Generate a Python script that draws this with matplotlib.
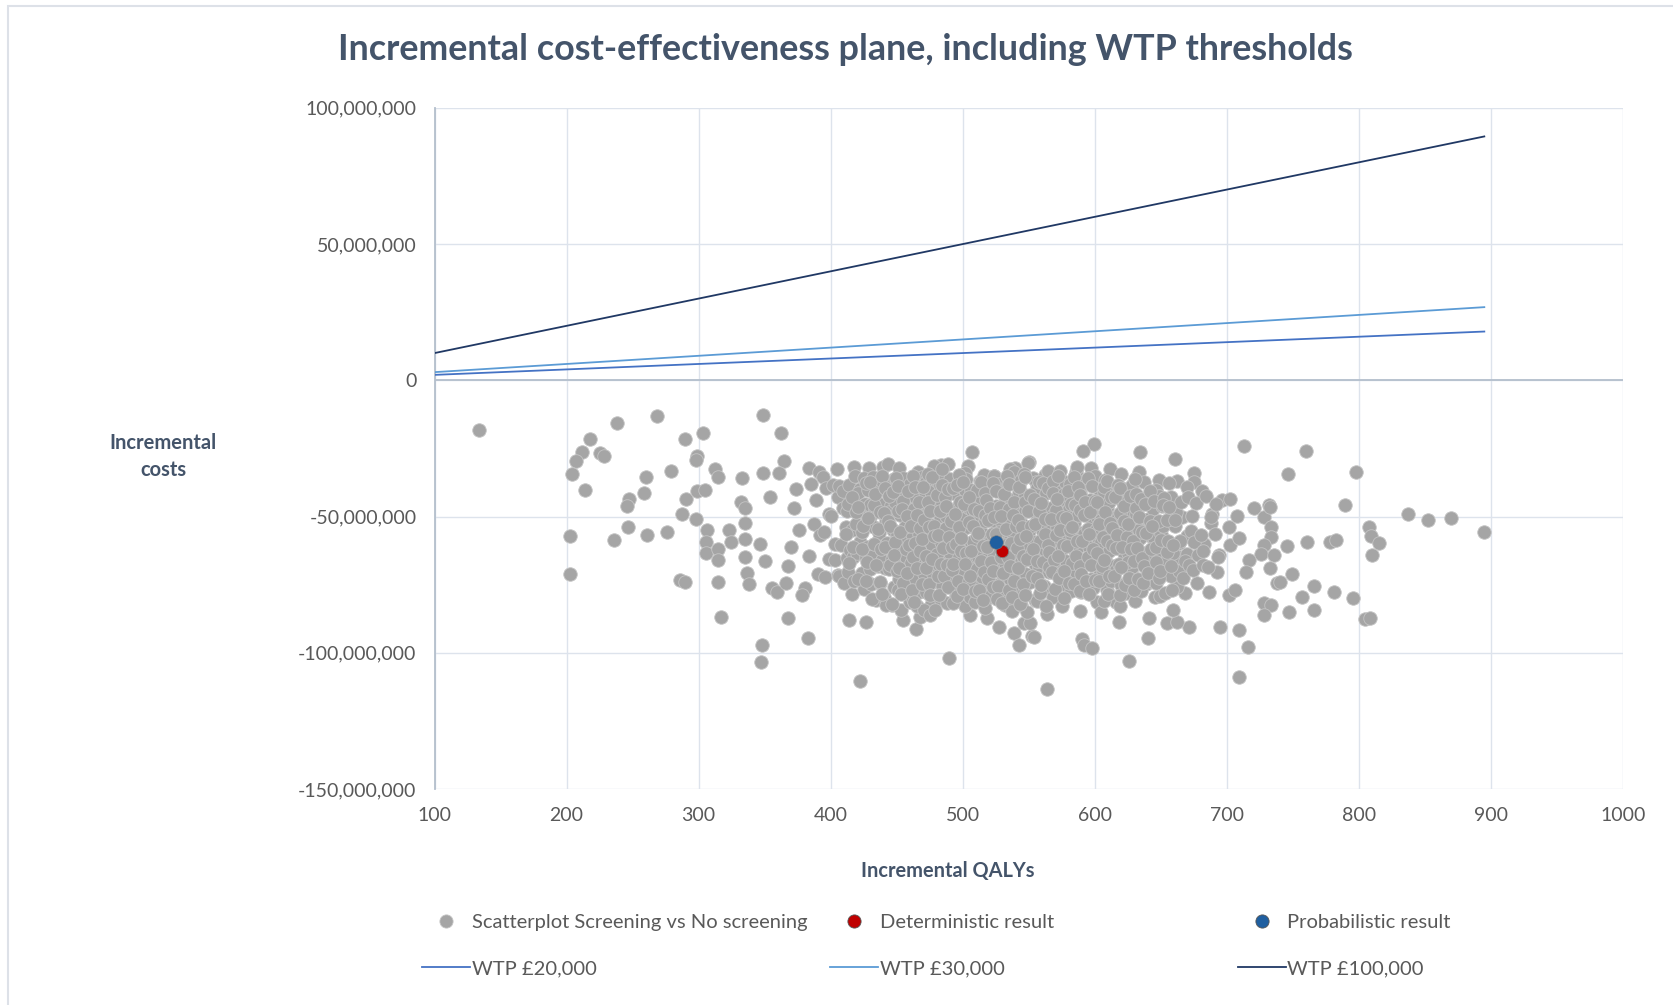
#!/usr/bin/env python3
## Incremental cost-effectiveness plane with WTP thresholds
import numpy as np
import matplotlib
matplotlib.use("Agg")
import matplotlib.pyplot as plt
from matplotlib.lines import Line2D
from matplotlib.patches import Rectangle
from matplotlib.ticker import FuncFormatter, MultipleLocator

plt.rcParams["font.family"] = "Lato"

# ---- data (costs in millions) -------------------------------------------
# outlying PSA iterations, read point by point
sparse_qaly = [133.5, 217.6, 211.7, 207, 204.3, 213.8, 225.6, 228.4, 238, 268.8,
               289.3, 303.6, 298.7, 297.7, 279.4, 260, 258.5, 247.6, 245.6, 312.5,
               314.3, 332.7, 290.3, 298.7, 304.5, 287.5, 298.1, 332, 335, 202.4,
               202.4, 246.8, 235.9, 261, 276.1, 306.1, 305.2, 305.2, 314.5, 315,
               322.9, 324.6, 335, 335, 335, 336.5, 337.8, 285.6, 289.5, 315,
               316.8, 348.6, 362.7, 364.5, 348.6, 361.2, 383.2, 391.5, 353.9, 346.8,
               350.6, 355.6, 359.4, 366.5, 380.9, 378.4, 367.8, 382.9, 347.8, 347.1,
               413.7, 426.9, 422.4, 464.8, 489.5, 507.2, 483.2, 503.9, 527.1, 538.5,
               542.3, 546.1, 552.4, 523.4, 539.8, 549.9, 454.7, 467.8, 446.3, 475.9,
               518.3, 505.7, 599.6, 590.8, 634.5, 660.5, 632.0, 648.4, 662.3, 674.9,
               675.4, 713.0, 696.4, 702.7, 689.1, 687.9, 701.7, 702.5, 709.3, 708.0,
               720.7, 732.0, 728.3, 733.3, 733.3, 728.3, 725.8, 716.9, 714.4, 738.3,
               728.3, 733.3, 728.3, 695.1, 709.0, 715.9, 709.0, 671.2, 640.1, 625.8,
               563.7, 590.7, 592.0, 597.8, 618.0, 654.6, 662.2, 659.6, 640.7, 668.6,
               686.3, 701.4, 706.5, 662.2, 677.3, 692.4, 663.5, 669.8, 682.4, 693.8,
               666.0, 661.0, 635.8, 643.4, 643.4, 645.9, 553.6, 551.1, 760.2, 746.1,
               798.1, 789.3, 836.9, 852.1, 869.7, 894.5, 807.9, 809.4, 815.0, 809.7,
               745.6, 760.7, 778.4, 782.7, 749.4, 740.5, 765.8, 757.0, 781.0, 795.6,
               746.9, 765.8, 805.0, 808.8, 733.0, 735.6, 733.0,
               372, 376, 370, 368, 374]
sparse_cost = [-18.2, -21.7, -26.3, -29.6, -34.5, -40.2, -26.6, -27.8, -15.6, -13.0,
               -21.7, -19.5, -27.8, -29.3, -33.3, -35.4, -41.5, -43.7, -46.1, -32.7,
               -35.4, -35.8, -43.5, -40.8, -40.4, -49.0, -50.8, -44.7, -47.0, -57.3,
               -71.1, -53.9, -58.6, -56.8, -55.6, -55.1, -59.2, -63.2, -62.0, -66.0,
               -55.1, -59.4, -52.5, -58.1, -65.0, -70.9, -74.6, -73.4, -74.2, -74.2,
               -87.0, -12.6, -19.5, -29.6, -34.2, -34.2, -32.3, -33.7, -43.0, -60.2,
               -66.2, -76.4, -77.6, -74.5, -76.4, -78.8, -87.4, -94.7, -97.3, -103.3,
               -87.8, -88.6, -110.3, -91.3, -102.0, -26.4, -30.9, -31.5, -90.4, -92.9,
               -97.2, -89.2, -93.9, -35.1, -32.3, -30.1, -88.0, -86.8, -82.5, -82.5,
               -87.4, -86.2, -23.4, -26.0, -26.3, -28.9, -35.4, -36.6, -36.9, -33.9,
               -37.5, -24.1, -43.9, -43.7, -49.0, -52.5, -53.9, -60.4, -57.9, -49.8,
               -47.0, -45.8, -50.1, -53.8, -57.6, -60.6, -63.6, -66.0, -70.3, -74.5,
               -81.8, -82.5, -86.2, -90.7, -91.7, -98.0, -108.8, -90.6, -94.5, -103.1,
               -113.3, -95.0, -97.2, -98.4, -88.6, -89.2, -88.6, -84.4, -87.4, -78.2,
               -77.6, -78.8, -77.0, -75.8, -74.5, -70.3, -64.8, -63.6, -59.9, -64.2,
               -50.1, -49.8, -54.5, -57.6, -64.8, -66.0, -94.1, -89.2, -26.0, -34.5,
               -33.8, -45.8, -49.2, -51.3, -50.4, -55.6, -54.0, -57.2, -59.6, -64.2,
               -60.7, -59.5, -59.2, -58.6, -71.1, -74.2, -75.4, -79.4, -77.6, -79.8,
               -84.9, -84.3, -87.7, -87.2, -46.4, -64.2, -69.0,
               -47, -55, -61, -68, -40]

# dense centre of the cloud, estimated column by column
core_qaly = [385, 391, 397, 403, 409, 415, 421, 427, 433, 439, 445, 451, 457, 463,
             469, 475, 481, 487, 493, 499, 505, 511, 517, 523, 529, 535, 541, 547,
             553, 559, 565, 571, 577, 583, 589, 595, 601, 607, 613, 619, 625, 631,
             637, 643, 649, 655, 661, 667, 673, 679, 685, 691]
core_cost = [
    [-38, -52, -63],
    [-36, -45, -57, -70],
    [-41, -49, -55, -64, -72],
    [-34, -39, -44, -50, -59, -67, -73],
    [-37, -42, -47, -53, -59, -65, -70, -76],
    [-33, -40, -45, -49, -55, -61, -66, -72, -79],
    [-35, -38, -43, -48, -52, -58, -63, -69, -75],
    [-31, -37, -42, -46, -51, -56, -60, -66, -71, -77],
    [-34, -40, -44, -49, -54, -58, -63, -68, -73, -82],
    [-32, -36, -41, -47, -52, -57, -61, -65, -70, -76, -80],
    [-30, -35, -39, -44, -50, -55, -59, -64, -69, -74, -84],
    [-33, -38, -42, -46, -51, -57, -62, -67, -72, -78, -86],
    [-36, -40, -45, -49, -54, -60, -65, -70, -75, -81],
    [-34, -39, -43, -48, -53, -58, -63, -68, -73, -79, -84],
    [-37, -41, -46, -51, -56, -61, -66, -71, -77, -83],
    [-33, -38, -42, -47, -52, -57, -62, -67, -72, -78, -85],
    [-35, -40, -44, -49, -54, -59, -64, -69, -74, -80],
    [-32, -37, -41, -46, -50, -55, -60, -65, -70, -76, -82],
    [-36, -39, -43, -48, -53, -58, -63, -68, -73, -79],
    [-33, -38, -42, -47, -52, -56, -61, -66, -71, -77, -84],
    [-35, -40, -45, -49, -54, -59, -64, -69, -75, -81],
    [-37, -41, -46, -51, -56, -60, -65, -70, -76, -83],
    [-34, -39, -43, -48, -53, -58, -62, -67, -72, -78, -85],
    [-36, -40, -45, -50, -55, -60, -65, -69, -74, -80],
    [-38, -42, -47, -52, -57, -64, -67, -71, -77, -82],
    [-33, -39, -44, -49, -54, -59, -63, -68, -73, -79, -86],
    [-35, -41, -46, -51, -56, -61, -66, -70, -75, -81],
    [-32, -37, -43, -48, -53, -58, -62, -67, -72, -78, -84],
    [-34, -39, -44, -49, -54, -59, -64, -69, -74, -80],
    [-36, -41, -46, -51, -56, -60, -65, -70, -76, -82],
    [-33, -38, -43, -47, -52, -57, -62, -67, -72, -78, -85],
    [-35, -40, -45, -50, -55, -59, -64, -69, -74, -80],
    [-32, -37, -42, -47, -52, -56, -61, -66, -71, -77, -83],
    [-34, -39, -44, -49, -53, -58, -63, -68, -73, -79],
    [-31, -36, -41, -46, -51, -56, -60, -65, -70, -76, -86],
    [-33, -38, -43, -48, -53, -57, -62, -67, -72, -78],
    [-35, -40, -45, -50, -55, -60, -64, -69, -75, -81],
    [-37, -42, -47, -52, -56, -61, -66, -71, -77, -84],
    [-34, -39, -44, -49, -54, -59, -64, -68, -73, -80],
    [-36, -41, -46, -51, -55, -60, -65, -70, -76, -83],
    [-38, -43, -48, -53, -58, -63, -67, -72, -78],
    [-35, -40, -45, -50, -55, -60, -65, -70, -75, -82],
    [-37, -42, -47, -51, -57, -62, -67, -73, -79],
    [-39, -44, -49, -54, -59, -64, -69, -75, -81],
    [-41, -46, -52, -58, -63, -68, -73, -79],
    [-38, -44, -49, -55, -61, -67, -72, -77],
    [-42, -47, -53, -58, -65, -70, -76],
    [-40, -45, -56, -60, -68, -73],
    [-43, -49, -54, -59, -66, -71],
    [-41, -46, -57, -63, -69],
    [-44, -50, -62, -67],
    [-47, -57, -66],
]
# second layer of the thickest part, sitting between the first one
inner_qaly = [412, 418, 424, 430, 436, 442, 448, 454, 460, 466, 472, 478, 484, 490,
              496, 502, 508, 514, 520, 526, 532, 538, 544, 550, 556, 562, 568, 574,
              580, 586, 592, 598, 604, 610, 616, 622, 628, 634, 640, 646, 652, 658]
inner_cost = [
    [-47, -57, -68],
    [-41, -50, -61, -72],
    [-39, -48, -54, -63, -74],
    [-37, -44, -52, -60, -66, -79],
    [-34, -43, -50, -55, -63, -68, -73],
    [-38, -42, -47, -53, -61, -67, -77],
    [-36, -40, -49, -55, -60, -65, -70, -81],
    [-38, -43, -47, -52, -57, -62, -68, -73, -78],
    [-36, -41, -46, -51, -55, -61, -66, -71, -76],
    [-39, -44, -48, -54, -58, -64, -69, -74, -80],
    [-35, -40, -45, -50, -55, -60, -65, -70, -75],
    [-37, -42, -47, -52, -57, -62, -67, -72, -78, -83],
    [-34, -39, -44, -48, -53, -58, -63, -68, -73, -79],
    [-38, -41, -46, -51, -56, -61, -66, -71, -76, -81],
    [-36, -40, -45, -50, -54, -59, -64, -69, -74, -80],
    [-37, -43, -47, -52, -57, -62, -67, -72, -78],
    [-39, -44, -49, -54, -58, -63, -68, -73, -79],
    [-36, -41, -46, -51, -56, -60, -65, -70, -75, -82],
    [-38, -43, -48, -53, -57, -62, -67, -72, -77],
    [-40, -45, -50, -54, -58, -65, -69, -74, -80],
    [-36, -42, -46, -51, -56, -61, -66, -71, -76, -83],
    [-38, -44, -48, -53, -58, -63, -68, -73, -78],
    [-35, -40, -45, -50, -55, -60, -65, -70, -75, -81],
    [-37, -42, -47, -52, -57, -62, -67, -72, -78],
    [-39, -44, -49, -53, -58, -63, -68, -73, -79],
    [-36, -41, -45, -50, -55, -60, -65, -70, -75, -82],
    [-38, -43, -48, -52, -57, -62, -67, -72, -77],
    [-35, -40, -45, -50, -54, -59, -64, -69, -74, -80],
    [-37, -42, -47, -51, -56, -61, -66, -71, -76],
    [-34, -39, -44, -49, -54, -58, -63, -68, -73, -79],
    [-36, -41, -46, -51, -55, -60, -65, -70, -75],
    [-38, -43, -48, -53, -58, -62, -67, -72, -78],
    [-40, -45, -50, -54, -59, -64, -69, -74, -80],
    [-37, -42, -47, -52, -57, -62, -66, -71, -77],
    [-39, -44, -49, -53, -58, -63, -68, -73, -79],
    [-41, -46, -51, -56, -61, -65, -70, -75],
    [-38, -43, -48, -53, -58, -63, -68, -73, -78],
    [-40, -45, -50, -55, -60, -65, -71, -76],
    [-42, -47, -52, -57, -62, -67, -72],
    [-44, -50, -55, -61, -66, -71],
    [-42, -47, -53, -59, -64, -70],
    [-45, -51, -57, -62, -68],
]
# hand-set offsets so the centre does not sit on a visible grid
nudge_qaly = [0, 2.5, -1.5, 3, -2.5, 1, -0.5, 2, -2, 1.5, -1, 2.8, -3, 0.5]
nudge_cost = [0, 1.2, -0.8, 1.6, -1.4, 0.5, -0.3, 1.0, -1.8, 0.2, 1.5, -1.1]

det_qaly, det_cost = [529.5], [-62.6]
prob_qaly, prob_cost = [525.5], [-59.4]

wtp_qaly = [100, 895]
wtp20_cost = [2.0, 17.9]
wtp30_cost = [3.0, 26.85]
wtp100_cost = [10.0, 89.5]

# ---- build arrays ---------------------------------------------------------
scat_x = list(sparse_qaly)
scat_y = list(sparse_cost)
for k, (cx, cy) in enumerate([(core_qaly, core_cost), (inner_qaly, inner_cost)]):
    for i, (x, col) in enumerate(zip(cx, cy)):
        for j, y in enumerate(col):
            scat_x.append(x + nudge_qaly[(3 * i + j + 5 * k) % len(nudge_qaly)])
            scat_y.append(y + nudge_cost[(5 * i + 2 * j + 3 * k) % len(nudge_cost)])
scat_x = np.array(scat_x)
scat_y = np.array(scat_y) * 1e6

TXT = "#595959"
HEAD = "#44546A"
GRID = "#dde3ec"
AXLN = "#b4bfcc"
GRAY = "#a5a5a5"
C20, C30, C100 = "#4472C4", "#5B9BD5", "#203864"
RED, BLUE = "#C00000", "#1F5FA0"

fig = plt.figure(figsize=(16.74, 10.05), dpi=100)
ax = fig.add_axes([0.2596, 0.2149, 0.7099, 0.6778])

ax.plot(wtp_qaly, np.array(wtp20_cost) * 1e6, color=C20, lw=1.3, zorder=3)
ax.plot(wtp_qaly, np.array(wtp30_cost) * 1e6, color=C30, lw=1.3, zorder=3)
ax.plot(wtp_qaly, np.array(wtp100_cost) * 1e6, color=C100, lw=1.3, zorder=3)
ax.axhline(0, color=AXLN, lw=1.3, zorder=2)

ax.scatter(scat_x, scat_y, s=95, color=GRAY, edgecolors="#c4c4c4", linewidths=0.6, zorder=4)
ax.scatter(prob_qaly, np.array(prob_cost) * 1e6, s=95, color=BLUE, edgecolors="#7f7f7f",
           linewidths=0.4, zorder=6)
ax.scatter(det_qaly, np.array(det_cost) * 1e6, s=80, color=RED, edgecolors="#7f7f7f",
           linewidths=0.6, zorder=5)

ax.set_xlim(100, 1000)
ax.set_ylim(-150e6, 100e6)
ax.xaxis.set_major_locator(MultipleLocator(100))
ax.yaxis.set_major_locator(MultipleLocator(50e6))
ax.yaxis.set_major_formatter(FuncFormatter(lambda v, p: f"{v:,.0f}"))
ax.grid(True, color=GRID, lw=1.0, zorder=0)
ax.set_axisbelow(True)
for s in ["top", "right", "bottom"]:
    ax.spines[s].set_visible(False)
ax.spines["left"].set_color(AXLN)
ax.spines["left"].set_linewidth(1.3)
ax.tick_params(length=0, labelsize=14, labelcolor=TXT)
ax.tick_params(axis="y", pad=13)
ax.tick_params(axis="x", pad=13)

fig.text(0.5048, 0.951, "Incremental cost-effectiveness plane, including WTP thresholds",
         ha="center", va="center", fontsize=25.8, fontweight="bold", color=HEAD)
fig.text(0.0974, 0.546, "Incremental\ncosts", ha="center", va="center", fontsize=14.5,
         fontweight="bold", color=HEAD, linespacing=1.45)
fig.text(0.5663, 0.1333, "Incremental QALYs", ha="center", va="center", fontsize=14.4,
         fontweight="bold", color=HEAD)

# legend: three columns, two rows each
def mk(c, ec="#c4c4c4"):
    return Line2D([], [], ls="none", marker="o", ms=9.5, mfc=c, mec=ec, mew=0.6)

def ln(c):
    return Line2D([], [], color=c, lw=1.3)

cols = [
    (0.2521, [mk(GRAY), ln(C20)], ["Scatterplot Screening vs No screening", "WTP £20,000"]),
    (0.4958, [mk(RED, "#555555"), ln(C30)], ["Deterministic result", "WTP £30,000"]),
    (0.7395, [mk(BLUE, "#555555"), ln(C100)], ["Probabilistic result", "WTP £100,000"]),
]
for xa, h, l in cols:
    lg = fig.legend(h, l, loc="center left", bbox_to_anchor=(xa, 0.0592), frameon=False,
                    fontsize=14.5, handlelength=2.38, handletextpad=0.08, borderpad=0,
                    borderaxespad=0, labelspacing=1.45, labelcolor=TXT)

# chart area border
fig.add_artist(Rectangle((8 / 1674, -0.1), 1.2, 1.1 - 6 / 1005, transform=fig.transFigure,
                         fill=False, edgecolor="#dde1e8", lw=1.5))

fig.savefig("out.png", dpi=100)
